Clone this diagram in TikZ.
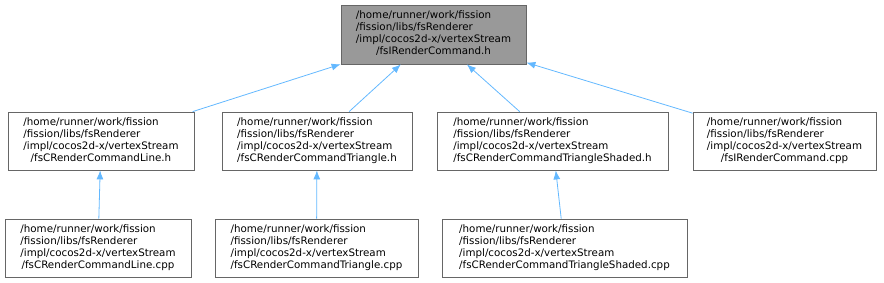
\documentclass[tikz,border=0pt]{standalone}
\usepackage{fontspec}
\setmainfont{DejaVu Sans}
\usetikzlibrary{arrows.meta}
\definecolor{edgeblue}{HTML}{63B8FF}
\definecolor{boxborder}{HTML}{666666}
\definecolor{topfill}{HTML}{999999}
\newcommand{\fourlines}[4]{\begin{tabular}{@{}l@{}}#1\\#2\\#3\\\multicolumn{1}{@{}c@{}}{#4}\end{tabular}}
\begin{document}
\begin{tikzpicture}[x=1pt,y=-1pt,
  filebox/.style={draw=boxborder, line width=0.8pt, rectangle, inner sep=0pt, minimum height=58pt, font=\fontsize{10.3}{12}\selectfont, text=black},
  dep/.style={draw=edgeblue, line width=0.8pt, -{Latex[length=9pt,width=7pt]}}]
\useasboundingbox (0,0) rectangle (884,283);
\renewcommand{\arraystretch}{1}
\node[filebox, fill=topfill, minimum width=185pt, minimum height=59pt] (T) at (433.5,34.5)
  {\fourlines{/home/runner/work/fission}{/fission/libs/fsRenderer}{/impl/cocos2d-x/vertexStream}{/fsIRenderCommand.h}};
\node[filebox, minimum width=186pt] (A) at (101,141)
  {\fourlines{/home/runner/work/fission}{/fission/libs/fsRenderer}{/impl/cocos2d-x/vertexStream}{/fsCRenderCommandLine.h}};
\node[filebox, minimum width=190pt] (B) at (317,141)
  {\fourlines{/home/runner/work/fission}{/fission/libs/fsRenderer}{/impl/cocos2d-x/vertexStream}{/fsCRenderCommandTriangle.h}};
\node[filebox, minimum width=231pt] (C) at (552.5,141)
  {\fourlines{/home/runner/work/fission}{/fission/libs/fsRenderer}{/impl/cocos2d-x/vertexStream}{/fsCRenderCommandTriangleShaded.h}};
\node[filebox, minimum width=183pt] (D) at (784.5,141)
  {\fourlines{/home/runner/work/fission}{/fission/libs/fsRenderer}{/impl/cocos2d-x/vertexStream}{/fsIRenderCommand.cpp}};
\node[filebox, minimum width=186pt] (E) at (98,248)
  {\fourlines{/home/runner/work/fission}{/fission/libs/fsRenderer}{/impl/cocos2d-x/vertexStream}{/fsCRenderCommandLine.cpp}};
\node[filebox, minimum width=203pt] (F) at (316.5,248)
  {\fourlines{/home/runner/work/fission}{/fission/libs/fsRenderer}{/impl/cocos2d-x/vertexStream}{/fsCRenderCommandTriangle.cpp}};
\node[filebox, minimum width=245pt] (G) at (564.5,248)
  {\fourlines{/home/runner/work/fission}{/fission/libs/fsRenderer}{/impl/cocos2d-x/vertexStream}{/fsCRenderCommandTriangleShaded.cpp}};
\draw[dep] (A) -- (T);
\draw[dep] (B) -- (T);
\draw[dep] (C) -- (T);
\draw[dep] (D) -- (T);
\draw[dep] (E) -- (A);
\draw[dep] (F) -- (B);
\draw[dep] (G) -- (C);
\end{tikzpicture}
\end{document}
